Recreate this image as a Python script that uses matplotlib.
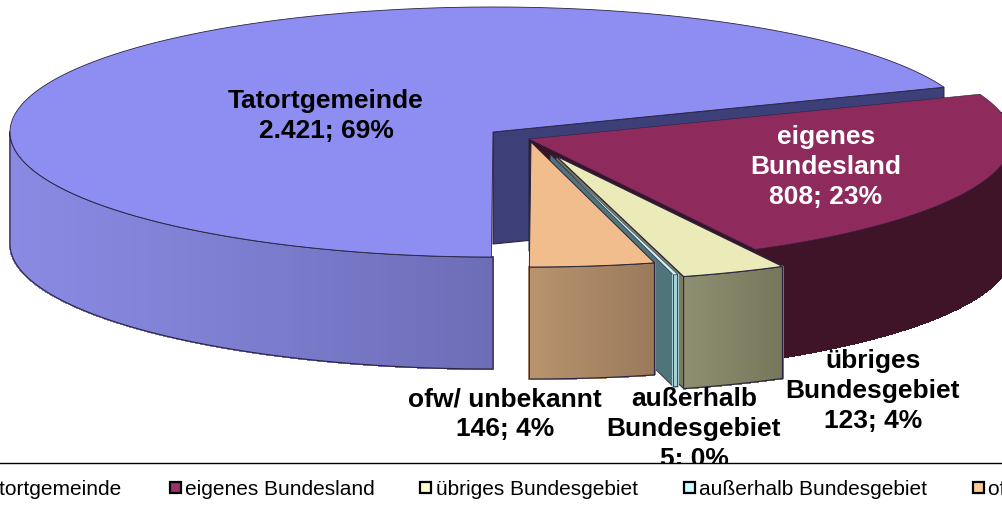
import numpy as np
import matplotlib
matplotlib.use("Agg")
import matplotlib.pyplot as plt
from matplotlib.patches import Polygon, Rectangle
from matplotlib.collections import PolyCollection
from matplotlib.colors import to_rgb

plt.rcParams['font.family'] = ['Liberation Sans', 'DejaVu Sans']

# --- data -----------------------------------------------------------------
categories = ["Tatortgemeinde", "eigenes Bundesland", "übriges Bundesgebiet",
              "außerhalb Bundesgebiet", "ofw/ unbekannt"]
values = [2421, 808, 123, 5, 146]
percent_labels = ["2.421; 69%", "808; 23%", "123; 4%", "5; 0%", "146; 4%"]
label_heads = ["Tatortgemeinde", "eigenes\nBundesland", "übriges\nBundesgebiet",
               "außerhalb\nBundesgebiet", "ofw/ unbekannt"]

# --- style / layout -------------------------------------------------------
W, H = 1003, 510
START = 21.0          # elliptical angle where the first clockwise slice starts
RX, RY, DEPTH = 483, 125, 112
centers = [(493, 133), (529, 140), (556, 157), (550, 155), (531, 143)]
tops = ['#8e8ef2', '#8e2a5c', '#ebebba', '#c8f6fa', '#f2bd8c']
side_a = ['#8a8ae4', '#3f1428', '#8f8f72', '#a6d2d6', '#b8946e']
side_b = ['#6c6cb6', '#3f1428', '#76765a', '#a6d2d6', '#9a7a5c']
walls = ['#3d3f78', '#3a1226', '#7c7a60', '#4f7479', '#9a7a5c']
legend_cols = ['#8e8ef2', '#993366', '#ffffcc', '#ccffff', '#ffcc99']
edge = '#2a2440'

fig = plt.figure(figsize=(W / 100, H / 100), dpi=100)
ax = fig.add_axes([0, 0, 1, 1])
ax.set_xlim(0, W)
ax.set_ylim(H, 0)
ax.axis('off')

total = sum(values)
sweep = [360 * v / total for v in values]
# clockwise order: eigenes, übriges, außerhalb, ofw, Tatort
spans = {}
a = START
for i in [1, 2, 3, 4, 0]:
    spans[i] = (a, a - sweep[i])
    a -= sweep[i]


def pt(i, ang):
    cx, cy = centers[i]
    t = np.radians(ang)
    return np.array([cx + RX * np.cos(t), cy - RY * np.sin(t)])


def arc(i, a0, a1, n=200):
    t = np.linspace(a0, a1, n)
    return np.array([pt(i, x) for x in t])


def mix(c0, c1, f):
    c0, c1 = np.array(to_rgb(c0)), np.array(to_rgb(c1))
    return tuple(c0 + (c1 - c0) * f)


def top(i, lw=0.8):
    a0, a1 = spans[i]
    pts = np.vstack([[centers[i]], arc(i, a0, a1)])
    ax.add_patch(Polygon(pts, closed=True, fc=tops[i], ec=edge, lw=lw))


def outer(i, a0, a1, n=80, lw=0.8, power=1.0):
    """Curved rim with a left-to-right shading, only the front-facing part."""
    rim = arc(i, a0, a1, n + 1)
    strips, cols = [], []
    for k in range(n):
        p, q = rim[k], rim[k + 1]
        strips.append([p, q, q + [0, DEPTH], p + [0, DEPTH]])
        cols.append(mix(side_a[i], side_b[i], ((k + .5) / n) ** power))
    ax.add_collection(PolyCollection(strips, facecolors=cols, edgecolors=cols,
                                     linewidths=0.8, antialiaseds=False))
    outline = np.vstack([rim, (rim + [0, DEPTH])[::-1]])
    ax.add_patch(Polygon(outline, closed=True, fc='none', ec=edge, lw=lw))


def wall(i, ang, lw=0.8):
    p, q = np.array(centers[i], float), pt(i, ang)
    ax.add_patch(Polygon([p, q, q + [0, DEPTH], p + [0, DEPTH]], closed=True,
                         fc=walls[i], ec=edge, lw=lw))


# Tatortgemeinde: inner wall, front rim, top
wall(0, spans[0][1])
outer(0, -180, -90, power=2.0)
top(0, lw=0.6)

# eigenes Bundesland
wall(1, spans[1][1])
outer(1, spans[1][1], 12, lw=0)
top(1, lw=0.4)

# übriges Bundesgebiet
wall(2, spans[2][1])
outer(2, spans[2][1], spans[2][0])
top(2)

# außerhalb Bundesgebiet
wall(3, spans[3][1], lw=0.6)
outer(3, spans[3][1], spans[3][0], n=4, lw=0.6)
top(3, lw=0.3)

# ofw/ unbekannt
outer(4, spans[4][1], spans[4][0])
top(4, lw=0.7)

# --- data labels ----------------------------------------------------------
label_xy = [(326, 116), (826, 167), (873, 391), (694, 429), (505, 414)]
label_col = ['black', 'white', 'black', 'black', 'black']
for i in range(5):
    ax.text(*label_xy[i], label_heads[i] + "\n" + percent_labels[i], ha='center', va='center',
            fontsize=19, fontweight='bold', color=label_col[i], linespacing=1.3, zorder=5)

# --- legend band ----------------------------------------------------------
ax.add_patch(Rectangle((0, 464), W, H - 464, fc='white', ec='none', zorder=6))
ax.plot([0, W], [464, 464], color='black', lw=1.0, zorder=7)
marker_x = [-40, 170, 420, 684, 973]
text_x = [122, 185, 436, 699, 988]
for i in range(5):
    ax.add_patch(Rectangle((marker_x[i], 483), 11, 11, fc=legend_cols[i], ec='black', lw=1.6, zorder=7))
    ax.text(text_x[i], 488, categories[i], ha='right' if i == 0 else 'left', va='center_baseline',
            fontsize=15, color='black', zorder=7)

fig.savefig('out.png', dpi=100)
